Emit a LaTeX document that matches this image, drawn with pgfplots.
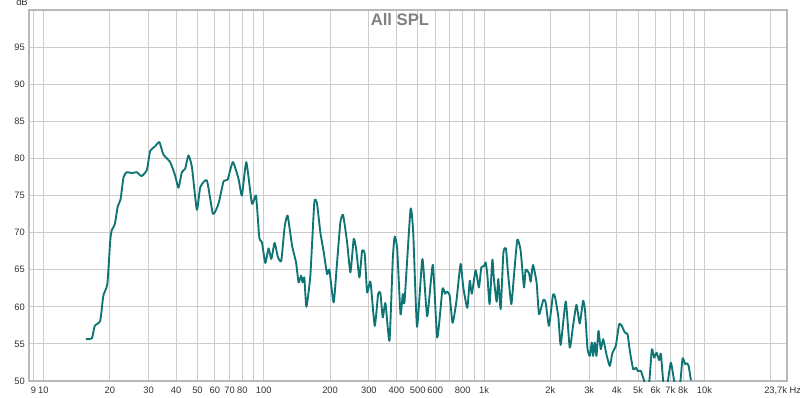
\documentclass[border=0pt]{standalone}
\usepackage{pgfplots}
\pgfplotsset{compat=1.18}
\usepackage{fontspec}
\setmainfont{Liberation Sans}
\definecolor{curve}{RGB}{14,116,116}
\definecolor{frame}{RGB}{185,185,185}
\definecolor{gridc}{RGB}{205,205,205}
\definecolor{titlec}{RGB}{128,128,128}
\definecolor{tickc}{RGB}{50,50,50}
\begin{document}
\begin{tikzpicture}
\useasboundingbox (0pt,0pt) rectangle (600pt,297.75pt);
\begin{axis}[
  at={(21.75pt,12pt)}, anchor=south west,
  scale only axis, width=568.5pt, height=278.25pt,
  xmode=log, xmin=8.6, xmax=23700,
  ymin=50, ymax=100,
  ytick={50,55,60,65,70,75,80,85,90,95},
  xtick={9,10,20,30,40,50,60,70,80,90,100,200,300,400,500,600,700,800,900,1000,2000,3000,4000,5000,6000,7000,8000,9000,10000,20000},
  xticklabels={9,10,20,30,40,50,60,70,80,,100,200,300,400,500,600,,800,,1k,2k,3k,4k,5k,6k,7k,8k,,10k,},
  major tick length=0pt,
  grid=major,
  major grid style={draw=gridc, line width=0.75pt},
  axis line style={draw=frame, line width=2.2pt},
  tick label style={font=\fontsize{7}{8}\selectfont, text=tickc},
  xticklabel style={anchor=base, inner sep=0pt, yshift=-9.4pt},
  yticklabel style={anchor=east, inner sep=0pt, xshift=-3pt},
  /pgf/number format/assume math mode=true,
  log ticks with fixed point,
]
\addplot[curve, line width=1.4pt, smooth, tension=0.3, line join=round] coordinates {
(15.6,55.64)(16.6,55.77)(17.1,57.43)(18.1,58.11)(18.7,61.49)(19.5,63.07)
(20.1,68.92)(20.4,70.27)(21.1,71.18)(21.7,73.42)(22.4,74.55)(23.1,77.47)
(23.9,78.15)(25.2,78.01)(26.5,78.15)(27.9,77.61)(29.5,78.47)(30.5,80.99)
(32.1,81.62)(33.6,82.20)(35.0,80.54)(37.6,79.50)(39.6,77.70)(41.0,76.04)
(42.5,78.15)(44.0,78.61)(45.5,80.41)(47.2,78.82)(49.7,73.07)(51.5,76.12)
(55.2,77.03)(58.8,72.53)(62.3,73.88)(65.7,76.93)(68.5,77.12)(72.4,79.50)
(76.8,77.26)(79.6,75.0)(83.3,79.50)(88.4,73.88)(92.2,75.0)(95.4,69.36)
(98.1,68.69)(101.6,65.91)(105.1,67.88)(108.2,66.45)(112.0,68.61)(116.0,66.66)
(120.1,66.22)(124.3,70.72)(128.3,72.30)(134.4,68.24)(140.1,65.99)(143.9,63.28)
(147.6,64.19)(150.1,63.28)(152.8,63.96)(156.1,60.0)(162.7,64.19)(169.6,74.09)
(174.5,73.88)(180.6,70.04)(187.0,67.43)(193.8,64.42)(198.5,65.0)(207.6,60.58)
(215.1,65.99)(222.7,71.39)(229.1,72.39)(238.9,68.69)(247.3,64.64)(256.0,69.15)
(262.5,67.80)(271.7,63.96)(279.5,67.57)(287.2,67.12)(294.5,61.93)(304.9,63.38)
(318.9,57.43)(330.4,61.72)(338.4,61.85)(346.7,58.55)(356.6,60.50)(372.0,55.41)
(385.1,66.45)(392.8,69.46)(403.2,67.80)(417.4,59.01)(427.5,61.72)(435.2,60.68)
(463.4,73.11)(476.7,70.04)(496.1,57.30)(524.8,66.45)(551.8,58.72)(585.2,65.65)
(612.8,55.85)(647.1,62.39)(664.9,61.76)(675.4,62.03)(697.0,61.62)(719.3,57.84)
(747.6,60.58)(782.1,65.77)(804.6,62.61)(838.9,59.86)(861.0,63.51)(880.1,61.76)
(915.0,64.93)(947.2,62.61)(971.3,65.31)(997.9,65.45)(1016,65.99)(1034,64.42)
(1059,60.36)(1090,66.35)(1108,63.74)(1140,60.68)(1160,63.74)(1189,59.69)
(1223,67.26)(1256,67.88)(1283,64.64)(1329,60.36)(1366,64.19)(1415,69.05)
(1465,67.57)(1517,62.61)(1544,65.0)(1598,64.55)(1627,63.38)(1667,65.64)
(1732,63.20)(1775,59.01)(1858,60.95)(1903,60.58)(1970,57.43)(2054,61.62)
(2098,61.35)(2174,58.55)(2227,54.86)(2347,60.72)(2447,54.50)(2533,57.43)
(2625,60.27)(2717,57.74)(2813,60.81)(2872,59.46)(2945,54.42)(3017,53.38)
(3081,55.18)(3123,53.38)(3179,55.18)(3236,53.38)(3305,56.76)(3385,54.28)
(3467,55.64)(3541,54.50)(3605,53.38)(3720,52.03)(3826,53.82)(3961,54.73)
(4100,57.66)(4217,57.43)(4352,56.53)(4477,56.31)(4587,54.05)(4748,51.58)
(4883,51.80)(4986,51.35)(5146,51.35)(5327,50.0)(5479,48.6)(5623,50.0)
(5773,54.28)(5913,53.15)(6063,53.82)(6230,52.80)(6343,53.69)(6497,50.0)
(6648,48.6)(6823,50.0)(7042,52.47)(7290,50.0)(7539,48.6)(7780,50.0)
(7960,53.07)(8179,52.26)(8327,52.4)(8477,52.03)(8682,50.09)
};
\end{axis}
\node[font=\bfseries\fontsize{12.5}{14}\selectfont, text=titlec, inner sep=0pt] at (300pt,282.75pt) {All SPL};
\node[font=\fontsize{7}{8}\selectfont, text=tickc, inner sep=0pt, anchor=base] at (16.5pt,293.25pt) {dB};
\node[font=\fontsize{7}{8}\selectfont, text=tickc, inner sep=0pt, anchor=base] at (587pt,2.6pt) {23,7k Hz};
\end{tikzpicture}
\end{document}
